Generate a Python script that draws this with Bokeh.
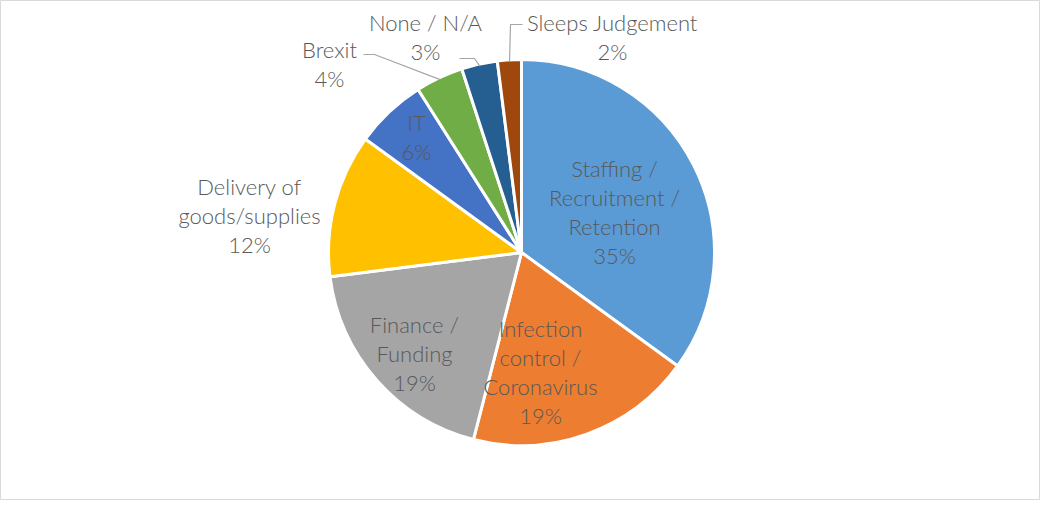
import math
from bokeh.plotting import figure
from bokeh.models import Range1d, ColumnDataSource
from bokeh.core.properties import value
from bokeh.embed import file_html
from bokeh.resources import INLINE

# ---- data ----
categories = ["Staffing / Recruitment / Retention", "Infection control / Coronavirus",
              "Finance / Funding", "Delivery of goods/supplies", "IT", "Brexit",
              "None / N/A", "Sleeps Judgement"]
label_lines = [["Staffing /", "Recruitment /", "Retention"],
               ["Infection", "control /", "Coronavirus"],
               ["Finance /", "Funding"],
               ["Delivery of", "goods/supplies"],
               ["IT"],
               ["Brexit"],
               ["None / N/A"],
               ["Sleeps Judgement"]]
percent = [35, 19, 19, 12, 6, 4, 3, 2]
colors = ["#5B9BD5", "#ED7D31", "#A5A5A5", "#FFC000", "#4472C4", "#70AD47", "#255E91", "#9E480E"]

# ---- layout (pixel coordinates relative to figure top-left) ----
W, H = 1040, 500
CX, CY, R = 521, 252, 193
label_pos = [(614, 168), (540, 328), (414, 324), (249, 186), (416, 122), (329, 49), (425, 22), (612, 22)]
LINE_H = 29
# leader lines: (start, elbow) for outside labels
leaders = {5: [(363, 54), (374, 54)], 6: [(459, 58), (474, 58)], 7: [(522, 24), (510, 24)]}

p = figure(width=W, height=H, output_backend="svg", toolbar_location=None,
           x_range=Range1d(0, W), y_range=Range1d(0, H), min_border=0)
p.axis.visible = False
p.grid.visible = False
p.outline_line_color = "#D9D9D9"
p.outline_line_width = 1
p.background_fill_color = "white"
p.border_fill_color = "white"

total = sum(percent)
starts, ends, mids = [], [], []
cum = 0.0
for v in percent:
    a0 = math.pi / 2 - 2 * math.pi * cum / total
    cum += v
    a1 = math.pi / 2 - 2 * math.pi * cum / total
    starts.append(a0)
    ends.append(a1)
    mids.append((a0 + a1) / 2)

src = ColumnDataSource(dict(x=[CX] * len(percent), y=[H - CY] * len(percent),
                            start=starts, end=ends, color=colors))
p.wedge(x="x", y="y", radius=R, start_angle="start", end_angle="end", direction="clock",
        fill_color="color", line_color="white", line_width=3, source=src)

# leader lines
for i, pts in leaders.items():
    ex = CX + (R - 2) * math.cos(mids[i])
    ey = (H - CY) + (R - 2) * math.sin(mids[i])
    xs = [pts[0][0], pts[1][0], ex]
    ys = [H - pts[0][1], H - pts[1][1], ey]
    p.line(xs, ys, line_color="#A6A6A6", line_width=1.2)

tx, ty, tt = [], [], []
for i, lines in enumerate(label_lines):
    all_lines = lines + [f"{percent[i]}%"]
    lx, ly = label_pos[i]
    for k, s in enumerate(all_lines):
        tx.append(lx)
        ty.append(H - (ly + k * LINE_H))
        tt.append(s)
p.text(x=tx, y=ty, text=tt, text_align="center", text_baseline="middle",
       text_font=value("Lato Light, Lato"), text_font_size="22px", text_color="#595959")

open("out.html", "w").write(file_html(p, INLINE))
